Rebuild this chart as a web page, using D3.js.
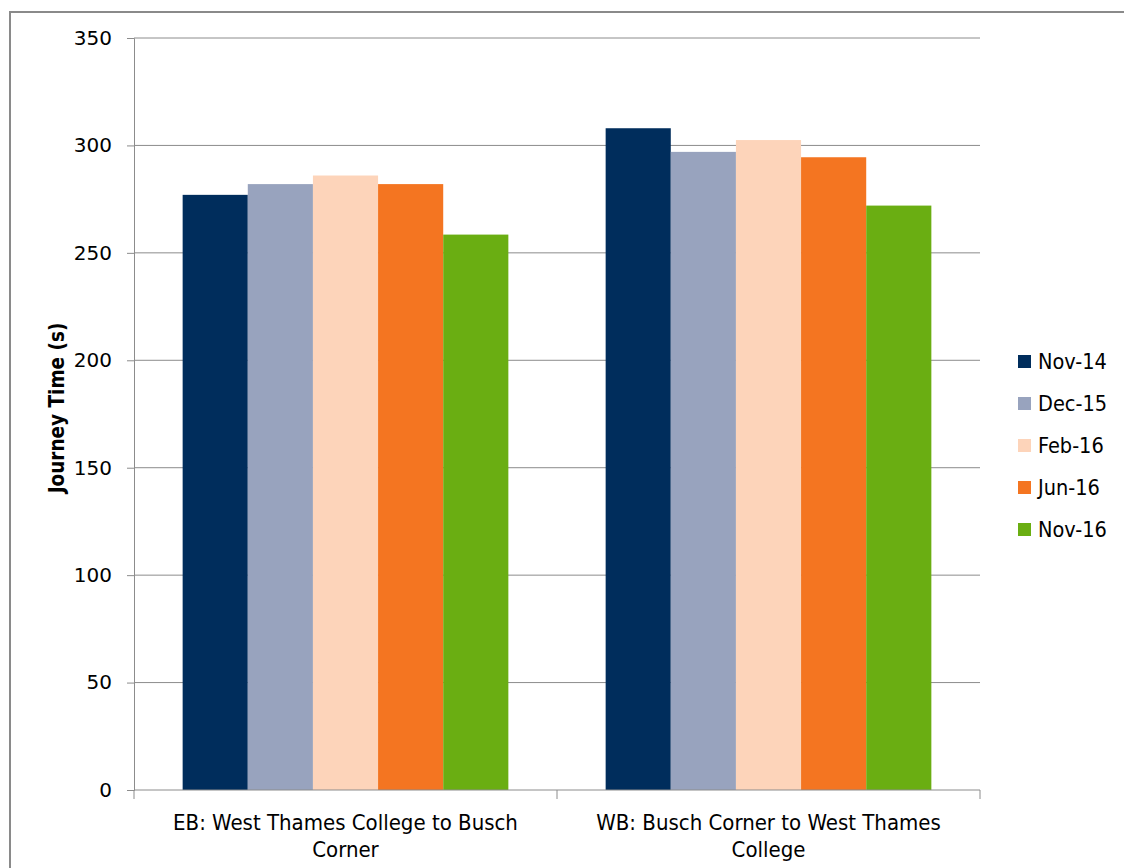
<!DOCTYPE html>
<html>
<head>
<meta charset="utf-8">
<script src="https://cdn.jsdelivr.net/npm/d3@7/dist/d3.min.js"></script>
<style>
  html, body { margin: 0; padding: 0; background: #fff; }
  svg { display: block; }
  text { font-family: "DejaVu Sans", Verdana, sans-serif; fill: #000; }
</style>
</head>
<body>
<svg id="chart" width="1124" height="868"></svg>
<script>
// Journey times by direction and survey month
const categories = [
  "EB: West Thames College to Busch Corner",
  "WB: Busch Corner to West Thames College"
];
const seriesNames = ["Nov-14", "Dec-15", "Feb-16", "Jun-16", "Nov-16"];
const nov14 = [277, 308];
const dec15 = [282, 297];
const feb16 = [286, 302.5];
const jun16 = [282, 294.5];
const nov16 = [258.5, 272];
const seriesValues = [nov14, dec15, feb16, jun16, nov16];
const yTicks = [0, 50, 100, 150, 200, 250, 300, 350];
const colors = ["#002D5C", "#98A3BE", "#FDD4BA", "#F47521", "#6AAE12"];

const svg = d3.select("#chart");

// Outer chart frame
svg.append("rect")
  .attr("x", 10).attr("y", 12)
  .attr("width", 1130).attr("height", 870)
  .attr("fill", "none").attr("stroke", "#8a8a8a").attr("stroke-width", 2);

const plot = { left: 134, right: 980, top: 38, bottom: 790 };

const y = d3.scaleLinear().domain([0, 350]).range([plot.bottom, plot.top]);
const x0 = d3.scaleBand().domain(categories)
  .range([plot.left, plot.right])
  .paddingInner(0.23).paddingOuter(0.115);
const x1 = d3.scaleBand().domain(seriesNames).range([0, x0.bandwidth()]);

// Horizontal gridlines
svg.append("g")
  .selectAll("line").data(yTicks.filter(d => d > 0)).join("line")
  .attr("x1", plot.left).attr("x2", plot.right)
  .attr("y1", d => y(d)).attr("y2", d => y(d))
  .attr("stroke", "#8c8c8c").attr("stroke-width", 1);

// Bars
const rows = categories.map((c, i) => ({
  cat: c,
  vals: seriesNames.map((s, j) => ({ s, v: seriesValues[j][i], color: colors[j] }))
}));
svg.append("g").selectAll("g").data(rows).join("g")
  .attr("transform", d => `translate(${x0(d.cat)},0)`)
  .selectAll("rect").data(d => d.vals).join("rect")
  .attr("x", d => x1(d.s))
  .attr("width", x1.bandwidth())
  .attr("y", d => y(d.v))
  .attr("height", d => y(0) - y(d.v))
  .attr("fill", d => d.color);

// Y axis
const yAxis = svg.append("g")
  .attr("transform", `translate(${plot.left},0)`)
  .call(d3.axisLeft(y).tickValues(yTicks).tickSize(7).tickPadding(15));
yAxis.select(".domain").attr("stroke", "#8c8c8c");
yAxis.selectAll(".tick line").attr("stroke", "#8c8c8c");
yAxis.selectAll(".tick text")
  .style("font-family", '"DejaVu Sans", sans-serif')
  .style("font-size", "20px");

// X axis: category boundary ticks
const xAxisG = svg.append("g").attr("transform", `translate(0,${plot.bottom})`);
xAxisG.append("line")
  .attr("x1", plot.left).attr("x2", plot.right)
  .attr("stroke", "#8c8c8c");
const boundaries = [plot.left, x0.step() + plot.left, plot.right];
xAxisG.selectAll("line.b").data(boundaries).join("line").attr("class", "b")
  .attr("x1", d => d).attr("x2", d => d)
  .attr("y1", 0).attr("y2", 9)
  .attr("stroke", "#8c8c8c");

// Category labels, wrapped onto two lines
const labelLines = [
  ["EB: West Thames College to Busch", "Corner"],
  ["WB: Busch Corner to West Thames", "College"]
];
categories.forEach((c, i) => {
  const t = svg.append("text")
    .attr("x", x0(c) + x0.bandwidth() / 2)
    .attr("y", 830)
    .attr("text-anchor", "middle")
    .style("font-family", '"DejaVu Sans Condensed", "DejaVu Sans", sans-serif')
    .style("font-size", "22px");
  labelLines[i].forEach((ln, k) => {
    t.append("tspan")
      .attr("x", x0(c) + x0.bandwidth() / 2)
      .attr("dy", k === 0 ? 0 : 27)
      .text(ln);
  });
});

// Y axis title
svg.append("text")
  .attr("transform", `translate(64,408) rotate(-90)`)
  .attr("text-anchor", "middle")
  .style("font-size", "20.5px")
  .style("font-weight", "bold")
  .style("font-family", '"DejaVu Sans Condensed", "DejaVu Sans", sans-serif')
  .text("Journey Time (s)");

// Legend
const legend = svg.append("g").attr("transform", "translate(1018,355)");
const li = legend.selectAll("g").data(seriesNames).join("g")
  .attr("transform", (d, i) => `translate(0,${i * 42})`);
li.append("rect").attr("width", 13).attr("height", 13)
  .attr("fill", (d, i) => colors[i]);
li.append("text")
  .attr("x", 20).attr("y", 14)
  .style("font-size", "21.5px")
  .style("font-family", '"DejaVu Sans Condensed", "DejaVu Sans", sans-serif')
  .text(d => d);
</script>
</body>
</html>
